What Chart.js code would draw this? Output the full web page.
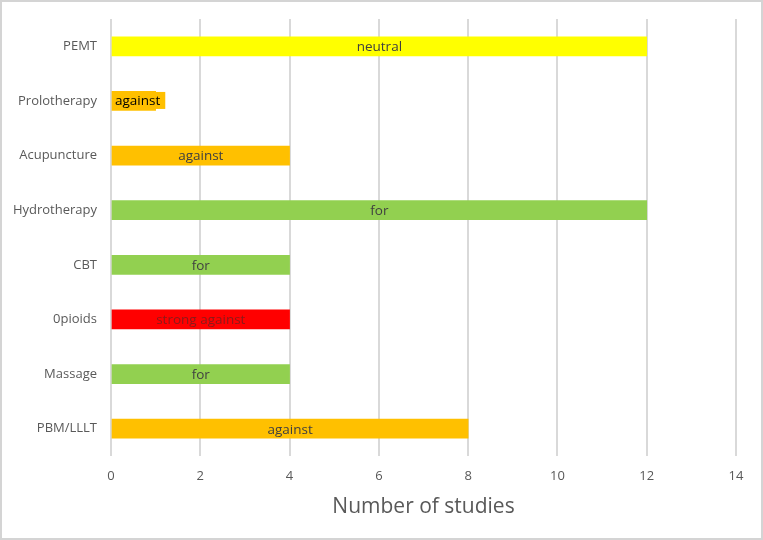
<!DOCTYPE html>
<html>
<head>
<meta charset="utf-8">
<script src="https://cdn.jsdelivr.net/npm/chart.js@4"></script>
<style>
  html, body { margin: 0; padding: 0; background: #fff; }
  #wrap { width: 763px; height: 540px; }
</style>
</head>
<body>
<div id="wrap"><canvas id="studiesChart" width="763" height="540"></canvas></div>
<script>
// data
const treatments = ['PEMT', 'Prolotherapy', 'Acupuncture', 'Hydrotherapy', 'CBT', '0pioids', 'Massage', 'PBM/LLLT'];
const studyCounts = [12, 1, 4, 12, 4, 4, 4, 8];
const verdicts = ['neutral', 'against', 'against', 'for', 'for', 'strong against', 'for', 'against'];
const xTicks = [0, 2, 4, 6, 8, 10, 12, 14];

const verdictColors = {
  'neutral': '#FFFF00',
  'against': '#FFC000',
  'for': '#92D050',
  'strong against': '#FF0000'
};
const FONT = '"Open Sans", "Noto Sans", sans-serif';

// white background + thin frame round the picture
const framePlugin = {
  id: 'frame',
  beforeDraw(chart) {
    const c = chart.ctx;
    c.save();
    c.fillStyle = '#fff';
    c.fillRect(0, 0, chart.width, chart.height);
    c.strokeStyle = '#d4d4d4';
    c.lineWidth = 2;
    c.strokeRect(1, 1, chart.width - 2, chart.height - 2);
    c.restore();
  }
};

// labels inside the bars
const verdictLabels = {
  id: 'verdictLabels',
  afterDatasetsDraw(chart) {
    const c = chart.ctx;
    const meta = chart.getDatasetMeta(0);
    c.save();
    c.font = '13.5px ' + FONT;
    c.textBaseline = 'middle';
    meta.data.forEach((bar, i) => {
      const txt = verdicts[i];
      const w = c.measureText(txt).width;
      const barW = bar.x - bar.base;
      if (w + 8 > barW) {
        // label too wide: boxed, left aligned
        c.fillStyle = verdictColors[txt];
        c.fillRect(bar.base, bar.y - 9, w + 8, 17);
        c.fillStyle = '#000';
        c.textAlign = 'left';
        c.fillText(txt, bar.base + 3, bar.y);
      } else {
        c.fillStyle = txt === 'strong against' ? '#8a1a1a' : '#404040';
        c.textAlign = 'center';
        c.fillText(txt, (bar.x + bar.base) / 2, bar.y + 1);
      }
    });
    c.restore();
  }
};

const ctx = document.getElementById('studiesChart').getContext('2d');
new Chart(ctx, {
  type: 'bar',
  data: {
    labels: treatments,
    datasets: [{
      data: studyCounts,
      backgroundColor: verdicts.map(v => verdictColors[v]),
      borderWidth: 0,
      barThickness: 19
    }]
  },
  options: {
    indexAxis: 'y',
    responsive: false,
    animation: false,
    layout: { padding: { top: 19, right: 27, left: 0, bottom: 16 } },
    scales: {
      x: {
        min: 0,
        max: 14,
        afterBuildTicks(scale) { scale.ticks = xTicks.map(v => ({ value: v })); },
        afterFit(scale) { scale.height = 68; },
        grid: { color: '#d9d9d9', lineWidth: 2, drawTicks: false },
        border: { display: false },
        ticks: { color: '#595959', font: { family: FONT, size: 13 }, padding: 12 },
        title: {
          display: true,
          text: 'Number of studies',
          color: '#595959',
          font: { family: FONT, size: 21 },
          padding: { top: 8 }
        }
      },
      y: {
        afterFit(scale) { scale.width = 111; },
        grid: { display: false },
        border: { display: false },
        ticks: { color: '#595959', font: { family: FONT, size: 13 }, padding: 6 }
      }
    },
    plugins: {
      legend: { display: false },
      tooltip: { enabled: false }
    }
  },
  plugins: [framePlugin, verdictLabels]
});
</script>
</body>
</html>
